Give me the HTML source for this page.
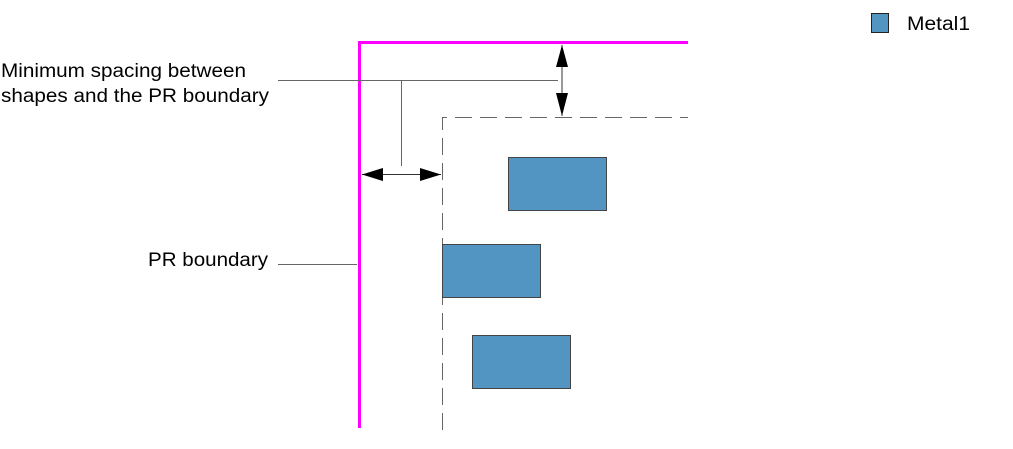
<!DOCTYPE html>
<html><head><style>
body{margin:0;background:#fff;}
svg{display:block;}
text{font-family:"Liberation Sans",sans-serif;font-size:19px;fill:#000;}
</style></head><body>
<svg width="1013" height="449" viewBox="0 0 1013 449">
<rect x="871.5" y="13.5" width="17" height="19" fill="#5294c2" stroke="#222" stroke-width="1"/>
<text x="907" y="30" textLength="63" lengthAdjust="spacingAndGlyphs">Metal1</text>
<text x="1" y="77" textLength="245" lengthAdjust="spacingAndGlyphs">Minimum spacing between</text>
<text x="1" y="102" textLength="268" lengthAdjust="spacingAndGlyphs">shapes and the PR boundary</text>
<text x="148" y="266" textLength="120" lengthAdjust="spacingAndGlyphs">PR boundary</text>
<path d="M359.5 428 V42.5 H688" fill="none" stroke="#ff00ff" stroke-width="3"/>
<path d="M278 80.5 H558 M401.5 80 V166 M278 264.5 H357" stroke="#666" stroke-width="1" fill="none"/>
<path d="M442.5 430 V117.5 H688" stroke="#666" stroke-width="1" fill="none" stroke-dasharray="17,8"/>
<line x1="362" y1="174.5" x2="441" y2="174.5" stroke="#333" stroke-width="1"/>
<polygon points="362,174.5 383,168 383,181" fill="#000"/>
<polygon points="441,174.5 420,168 420,181" fill="#000"/>
<line x1="562" y1="45" x2="562" y2="116" stroke="#333" stroke-width="1"/>
<polygon points="562,45 556,67 568,67" fill="#000"/>
<polygon points="562,116 556,93 568,93" fill="#000"/>
<rect x="508.5" y="157.5" width="98" height="53" fill="#5294c2" stroke="#444"/>
<rect x="442.5" y="244.5" width="98" height="53" fill="#5294c2" stroke="#444"/>
<rect x="472.5" y="335.5" width="98" height="53" fill="#5294c2" stroke="#444"/>
</svg>
</body></html>
